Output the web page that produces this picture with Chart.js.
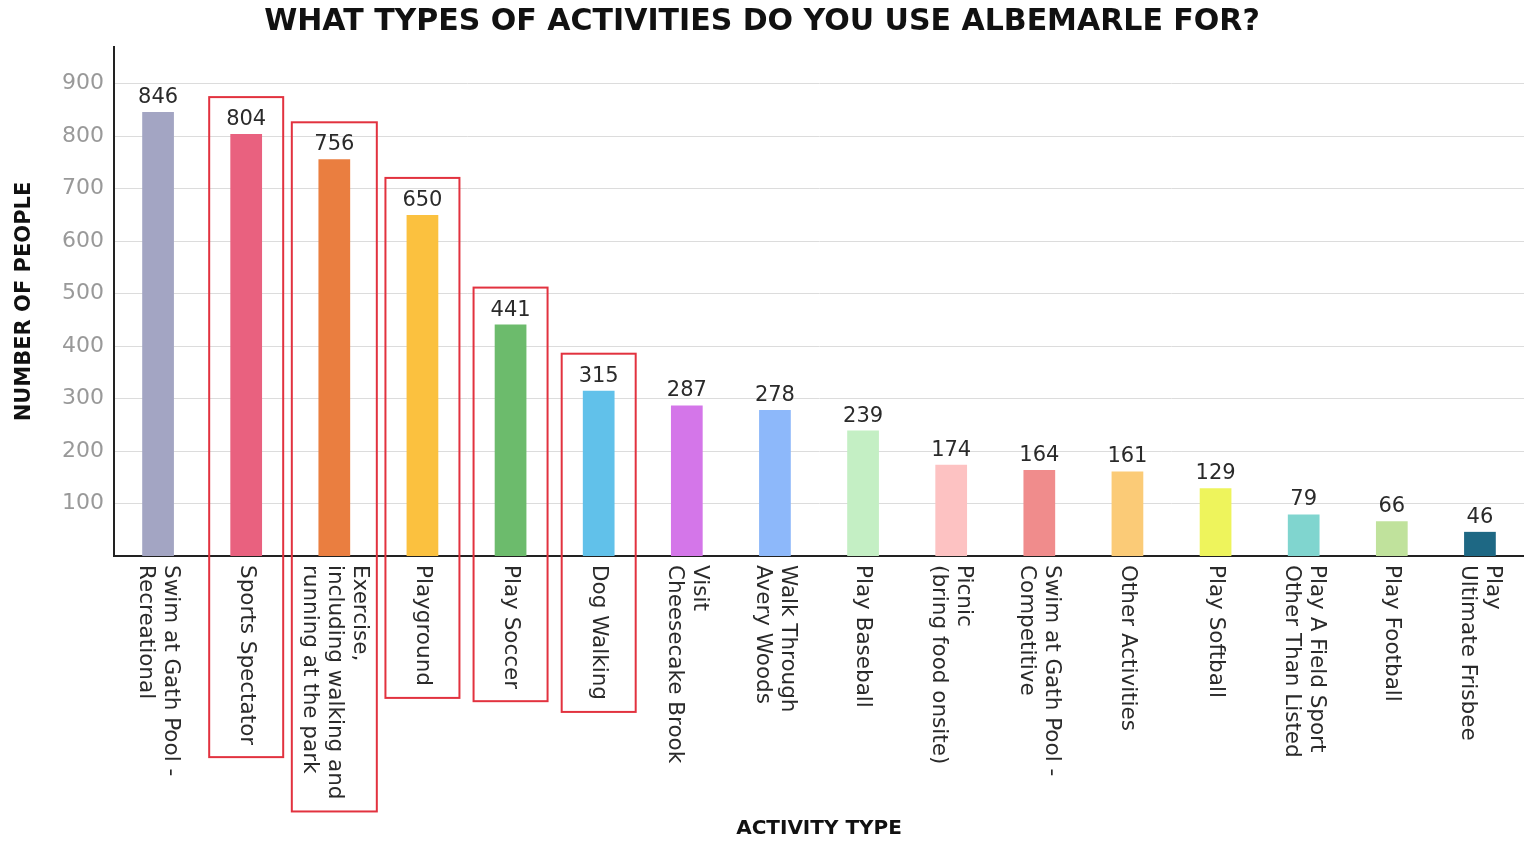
<!DOCTYPE html>
<html>
<head>
<meta charset="utf-8">
<script src="https://cdn.jsdelivr.net/npm/chart.js@4"></script>
<style>
  html, body { margin: 0; padding: 0; background: #fff; }
  #wrap { width: 1524px; height: 841px; position: relative; }
</style>
</head>
<body>
<div id="wrap"><canvas id="c"></canvas></div>
<script>
const categories = [
  ["Swim at Gath Pool -", "Recreational"],
  ["Sports Spectator"],
  ["Exercise,", "including walking and", "running at the park"],
  ["Playground"],
  ["Play Soccer"],
  ["Dog Walking"],
  ["Visit", "Cheesecake Brook"],
  ["Walk Through", "Avery Woods"],
  ["Play Baseball"],
  ["Picnic", "(bring food onsite)"],
  ["Swim at Gath Pool -", "Competitive"],
  ["Other Activities"],
  ["Play Softball"],
  ["Play A Field Sport", "Other Than Listed"],
  ["Play Football"],
  ["Play", "Ultimate Frisbee"]
];
const values = [846, 804, 756, 650, 441, 315, 287, 278, 239, 174, 164, 161, 129, 79, 66, 46];
const yTicks = [100, 200, 300, 400, 500, 600, 700, 800, 900];
const highlighted = [1, 2, 3, 4, 5];
const barColors = [
  "#a3a5c3", "#e9617f", "#ea7e40", "#fbc13f", "#6cbb6c", "#61c1ea", "#d476e9", "#8db8fa",
  "#c4efc4", "#fdc2c2", "#f08c8c", "#fbcb77", "#eef45c", "#80d5cf", "#c0e29c", "#1e6884"
];

const FONT = "'DejaVu Sans', sans-serif";

const annotate = {
  id: 'annotate',
  afterDatasetsDraw(chart) {
    const ctx = chart.ctx;
    const meta = chart.getDatasetMeta(0);
    ctx.save();
    ctx.font = "21px " + FONT;
    ctx.fillStyle = "#2a2a2a";
    ctx.textAlign = "center";
    ctx.textBaseline = "bottom";
    meta.data.forEach((bar, i) => {
      ctx.fillText(String(values[i]), bar.x, bar.y - 4);
    });
    ctx.restore();
  },
  afterDraw(chart) {
    const ctx = chart.ctx;
    const xs = chart.scales.x;
    const meta = chart.getDatasetMeta(0);
    const base = chart.chartArea.bottom + 9;
    const lh = 25;
    ctx.save();
    ctx.font = "21.5px " + FONT;
    ctx.fillStyle = "#2a2a2a";
    const extents = [];
    categories.forEach((lines, i) => {
      const x = xs.getPixelForValue(i);
      let maxW = 0;
      ctx.save();
      ctx.translate(x, base);
      ctx.rotate(Math.PI / 2);
      ctx.textAlign = "left";
      ctx.textBaseline = "middle";
      lines.forEach((t, j) => {
        const off = (j - (lines.length - 1) / 2) * lh;
        ctx.fillText(t, 0, off);
        maxW = Math.max(maxW, ctx.measureText(t).width);
      });
      ctx.restore();
      extents.push(maxW);
    });
    ctx.strokeStyle = "#e2323f";
    ctx.lineWidth = 2;
    highlighted.forEach(i => {
      const x = xs.getPixelForValue(i);
      const n = categories[i].length;
      const hw = Math.max(37, n * 12.5 + 5);
      const top = meta.data[i].y - 37;
      const bottom = base + extents[i] + 12;
      ctx.strokeRect(x - hw, top, hw * 2, bottom - top);
    });
    ctx.restore();
  }
};

new Chart(document.getElementById('c'), {
  type: 'bar',
  data: {
    labels: categories,
    datasets: [{
      data: values,
      backgroundColor: barColors,
      borderWidth: 0,
      barPercentage: 0.9,
      categoryPercentage: 0.4
    }]
  },
  options: {
    responsive: true,
    maintainAspectRatio: false,
    animation: false,
    layout: { padding: 0 },
    plugins: {
      legend: { display: false },
      tooltip: { enabled: false },
      title: {
        display: true,
        text: "WHAT TYPES OF ACTIVITIES DO YOU USE ALBEMARLE FOR?",
        color: "#111",
        font: { family: FONT, size: 30, weight: 'bold' },
        padding: { top: 4, bottom: 7 }
      }
    },
    scales: {
      x: {
        grid: { display: false, drawTicks: false },
        border: { display: true, color: "#222", width: 2 },
        ticks: { display: false },
        afterFit(s) { s.height = 285; },
        title: {
          display: true,
          text: "ACTIVITY TYPE",
          color: "#111",
          font: { family: FONT, size: 20, weight: 'bold' },
          padding: { top: 0, bottom: 0 }
        }
      },
      y: {
        min: 0,
        max: 970,
        afterBuildTicks(s) { s.ticks = yTicks.map(v => ({ value: v })); },
        grid: { color: "#dcdcdc", lineWidth: 1, drawTicks: false },
        border: { display: true, color: "#222", width: 2 },
        ticks: {
          color: "#999999",
          padding: 10,
          font: { family: FONT, size: 22, weight: 'normal' }
        },
        afterFit(s) { s.width = 114; },
        title: {
          display: true,
          text: "NUMBER OF PEOPLE",
          color: "#111",
          font: { family: FONT, size: 21, weight: 'bold' },
          padding: { top: 12, bottom: 0 }
        }
      }
    }
  },
  plugins: [annotate]
});
</script>
</body>
</html>
